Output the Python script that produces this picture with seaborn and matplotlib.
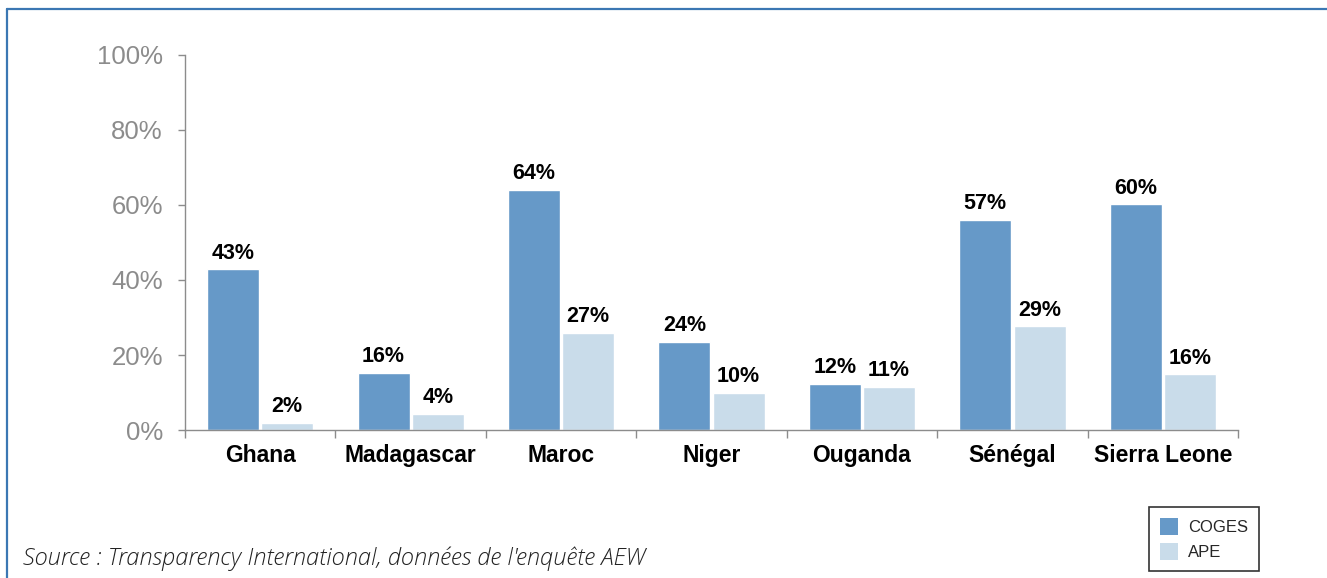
import matplotlib.pyplot as plt
import pandas as pd
import seaborn as sns
from matplotlib.lines import Line2D
from matplotlib.patches import Patch
from matplotlib.ticker import FixedLocator

countries = ["Ghana", "Madagascar", "Maroc", "Niger", "Ouganda", "Sénégal", "Sierra Leone"]
coges = [42.9, 15.3, 64.0, 23.5, 12.3, 56.0, 60.2]
ape = [1.9, 4.3, 25.9, 9.9, 11.5, 27.7, 14.9]
coges_labels = ["43%", "16%", "64%", "24%", "12%", "57%", "60%"]
ape_labels = ["2%", "4%", "27%", "10%", "11%", "29%", "16%"]
series = ["COGES", "APE"]
colors = ["#6699C8", "#C9DCEA"]
y_ticks = [0, 20, 40, 60, 80, 100]

df = pd.DataFrame({
    "country": countries * 2,
    "value": coges + ape,
    "series": [series[0]] * len(countries) + [series[1]] * len(countries),
})

sns.set_theme(style="white")
plt.rcParams["font.family"] = ["Liberation Sans", "DejaVu Sans"]

fig = plt.figure(figsize=(13.27, 5.78), dpi=100)
ax = fig.add_axes([0.1394, 0.256, 0.933 - 0.1394, 0.905 - 0.256])

sns.barplot(
    data=df, x="country", y="value", hue="series", order=countries,
    hue_order=series, palette=colors, width=0.72, gap=0.04,
    legend=False, ax=ax, saturation=1,
)

for container, labels in zip(ax.containers, [coges_labels, ape_labels]):
    ax.bar_label(container, labels=labels, padding=4, fontsize=15.5,
                 fontweight="bold", color="black")

ax.set_xlim(-0.5, len(countries) - 0.5)
ax.set_ylim(0, 100)
ax.set_yticks(y_ticks)
ax.set_yticklabels([f"{t}%" for t in y_ticks], fontsize=18.5, color="#8C8C8C")
ax.set_xlabel("")
ax.set_ylabel("")
ax.tick_params(axis="x", which="major", length=0, labelsize=16.5, pad=10)
for lbl in ax.get_xticklabels():
    lbl.set_fontweight("bold")
    lbl.set_color("black")
ax.xaxis.set_minor_locator(FixedLocator([i - 0.5 for i in range(len(countries) + 1)]))
ax.tick_params(axis="x", which="minor", bottom=True, length=6, width=1, color="#8C8C8C")
ax.tick_params(axis="y", left=True, length=5, width=1, color="#8C8C8C", pad=11)

sns.despine(ax=ax, top=True, right=True)
for side in ["left", "bottom"]:
    ax.spines[side].set_color("#8C8C8C")
    ax.spines[side].set_linewidth(1)

# frame lines on top and left of the figure
fig.add_artist(Line2D([0.0053, 1.0], [0.984, 0.984], color="#3B77B3", lw=1.6))
fig.add_artist(Line2D([0.0053, 0.0053], [0.0, 0.984], color="#3B77B3", lw=1.6))

handles = [Patch(facecolor=c, edgecolor="none") for c in colors]
leg = fig.legend(
    handles, series, loc="lower left", bbox_to_anchor=(0.866, 0.012),
    frameon=True, fancybox=False, fontsize=12, handlelength=1.1,
    handleheight=1.2, handletextpad=0.6, labelspacing=0.5,
    borderpad=0.65, borderaxespad=0,
)
leg.get_frame().set_edgecolor("black")
leg.get_frame().set_linewidth(1.2)

fig.text(0.017, 0.022, "Source : Transparency International, données de l'enquête AEW",
         fontsize=17, style="italic", fontweight="light", color="#222222",
         family=["Open Sans", "DejaVu Sans"])

fig.savefig("out.png", dpi=100)
